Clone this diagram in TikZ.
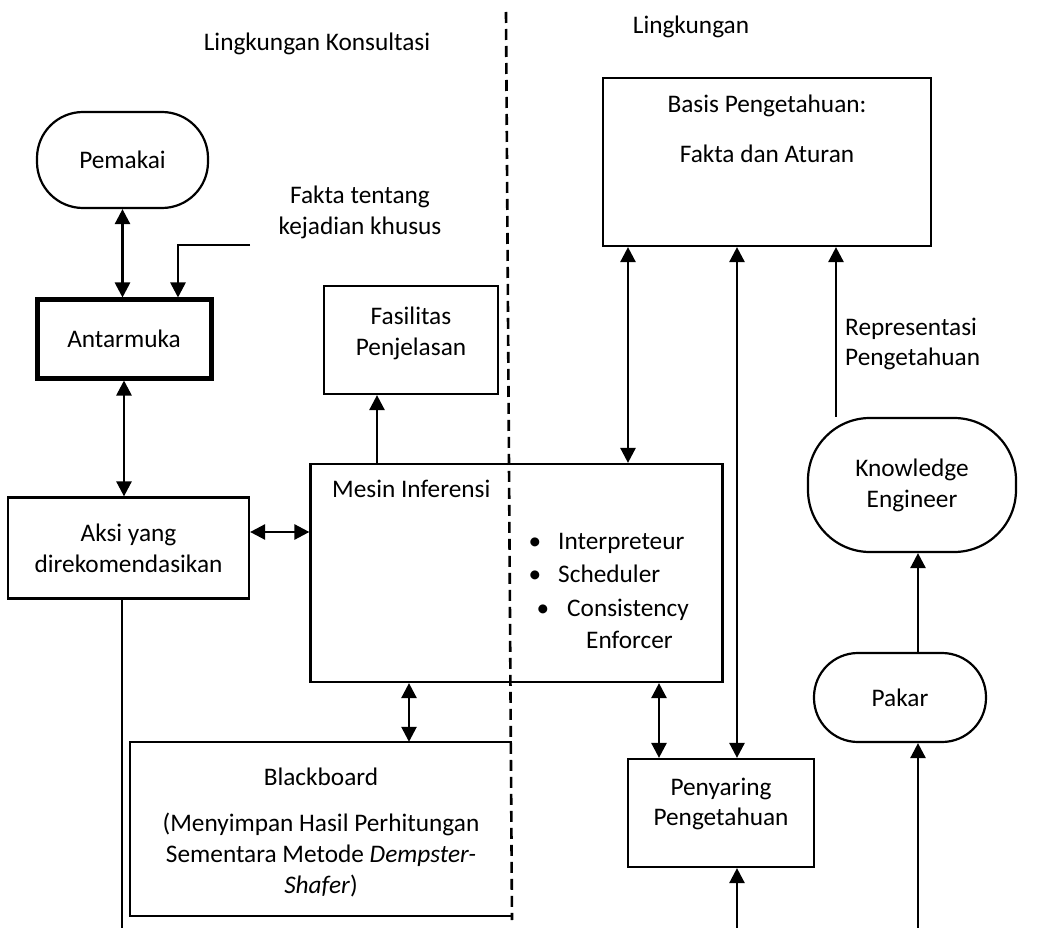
\documentclass[tikz,border=0pt]{standalone}
\usepackage{fontspec}
\setmainfont{Carlito}
\usetikzlibrary{arrows.meta,calc}
\begin{document}
\begin{tikzpicture}[x=1pt,y=-1pt,
  font=\fontsize{25.3pt}{30.8pt}\selectfont,
  box/.style={draw,line width=2.2pt,inner sep=0pt,align=center},
  stadium/.style={box},
  txt/.style={inner sep=0pt,align=center},
  arr/.style={line width=2.6pt,-{Triangle[length=15pt,width=15pt]}},
  darr/.style={line width=2.6pt,{Triangle[length=15pt,width=15pt]}-{Triangle[length=15pt,width=15pt]}},
  link/.style={line width=2.2pt},
  border/.style={line width=2.6pt,dash pattern=on 11pt off 6pt}]
\useasboundingbox (0,0) rectangle (1061,928);

% region titles
\node[txt] (tKons) at (317,44) {Lingkungan Konsultasi};
\node[txt] (tLing) at (691,27) {Lingkungan};

% boundary between the two environments
\coordinate (bTop) at (506,12);
\coordinate (bBot) at (512,920);

% left side
\node[stadium,rounded corners=46pt,minimum width=171pt,minimum height=96pt] (pem) at (122.5,160) {Pemakai};
\node[box,line width=5pt,minimum width=174pt,minimum height=78pt] (ant) at (124,339) {Antarmuka};
\node[txt] (fakta) at (360,212) {Fakta tentang\\kejadian khusus};
\coordinate (fk) at (250,245);
\node[box,minimum width=174pt,minimum height=108pt] (fas) at (411,340) {};
\node[txt] (fast) at (411,333) {Fasilitas\\Penjelasan};
\node[box,minimum width=241pt,minimum height=101pt] (aksi) at (128.5,548) {Aksi yang\\direkomendasikan};

% inference engine
\node[box,minimum width=412pt,minimum height=218pt] (mesin) at (516.5,573) {};
\node[txt,anchor=west] (mtitle) at (332,489) {Mesin Inferensi};
\node[txt,anchor=base] (b1) at (535,549) {•};
\node[txt,anchor=base west] (i1) at (558,549) {Interpreteur};
\node[txt,anchor=base] (b2) at (535,582) {•};
\node[txt,anchor=base west] (i2) at (558,582) {Scheduler};
\node[txt,anchor=base] (b3) at (543,616) {•};
\node[txt,anchor=base west] (i3) at (567,616) {Consistency};
\node[txt,anchor=base west] (i4) at (586,648) {Enforcer};

% blackboard (its right side is the dashed boundary)
\node[inner sep=0pt,minimum width=382pt,minimum height=174pt] (bb) at (321,829) {};
\draw[link] (bb.north east) -- (bb.north west) -- (bb.south west) -- (bb.south east);
\node[txt] (bbt) at (321,777) {Blackboard};
\node[txt,anchor=north] (bbd) at (321,813) {(Menyimpan Hasil Perhitungan\\Sementara Metode \textit{Dempster-}\\\textit{Shafer})};

% right side
\node[box,minimum width=328pt,minimum height=168pt] (basis) at (767,162) {};
\node[txt] (bt1) at (767,106) {Basis Pengetahuan:};
\node[txt] (bt2) at (767,154) {Fakta dan Aturan};
\node[box,minimum width=186pt,minimum height=108pt] (peny) at (721,813) {};
\node[txt] (penyt) at (721,804) {Penyaring\\Pengetahuan};
\node[stadium,rounded corners=62pt,minimum width=208pt,minimum height=134pt] (ke) at (912,485) {Knowledge\\Engineer};
\node[stadium,rounded corners=44pt,minimum width=172pt,minimum height=89pt] (pakar) at (900,697.5) {Pakar};
\node[txt,anchor=west,align=left] (rep) at (845,344) {Representasi\\Pengetahuan};

% columns and rows used by the connectors
\coordinate (cFk) at (178,0);
\coordinate (cFas) at (377,0);
\coordinate (cBb) at (409,0);
\coordinate (cB1) at (628,0);
\coordinate (cP1) at (659,0);
\coordinate (cB2) at (737,0);
\coordinate (cKe) at (836,0);
\coordinate (cPk) at (918,0);
\coordinate (cAk) at (122,0);
\coordinate (rAm) at (0,532);
\coordinate (rBot) at (0,929);

% connectors
\draw[darr] (pem.south) -- (pem.south |- ant.north);
\draw[arr] (fk) -| (ant.north -| cFk);
\draw[darr] (ant.south) -- (ant.south |- aksi.north);
\draw[darr] (aksi.east |- rAm) -- (mesin.west |- rAm);
\draw[arr] (mesin.north -| cFas) -- (fas.south -| cFas);
\draw[darr] (mesin.south -| cBb) -- (bb.north -| cBb);
\draw[darr] (basis.south -| cB1) -- (mesin.north -| cB1);
\draw[darr] (basis.south -| cB2) -- (peny.north -| cB2);
\draw[darr] (mesin.south -| cP1) -- (peny.north -| cP1);
\draw[arr] (ke.north -| cKe) -- (basis.south -| cKe);
\draw[arr] (pakar.north -| cPk) -- (ke.south -| cPk);
\draw[link] (aksi.south -| cAk) -- (rBot -| cAk) -- (rBot -| cPk);
\draw[arr] (rBot -| cB2) -- (peny.south -| cB2);
\draw[arr] (rBot -| cPk) -- (pakar.south -| cPk);

% environment boundary
\draw[border] (bTop) -- (bBot);
\end{tikzpicture}
\end{document}
